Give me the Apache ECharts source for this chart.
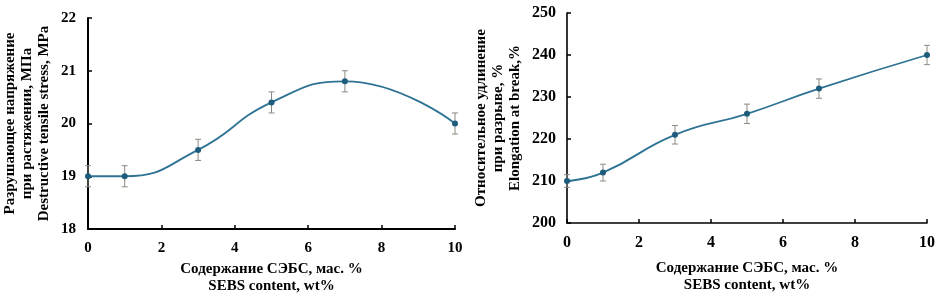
<!DOCTYPE html>
<html><head><meta charset="utf-8">
<script src="https://cdn.jsdelivr.net/npm/echarts@6/dist/echarts.min.js"></script>
<style>html,body{margin:0;padding:0;background:#fff}#c{width:939px;height:294px}</style>
</head><body><div id="c"></div>
<script>
const xValues = [0, 1, 3, 5, 7, 10];
const stressValues = [19, 19, 19.5, 20.4, 20.8, 20];
const stressErr = [0.2, 0.2, 0.2, 0.2, 0.2, 0.2];
const elongValues = [210, 212, 221, 226, 232, 240];
const elongErr = [1.5, 2, 2.2, 2.3, 2.3, 2.3];
const xTitle = 'Содержание СЭБС, мас. %\nSEBS content, wt%';
const yTitleLeft = 'Разрушающее напряжение\nпри растяжении, МПа\nDestructive tensile stress, MPa';
const yTitleRight = 'Относительное удлинение\nпри разрыве, %\nElongation at break,%';

const FONT = 'Liberation Serif';
const lineColor = '#2f7394';
const markColor = '#1d5c7c';
const errColor = '#8c8a80';

function pts(ys){ return xValues.map((x,i)=>[x, ys[i]]); }
function errData(ys, es){ return xValues.map((x,i)=>[x, ys[i]-es[i], ys[i]+es[i]]); }

function errSeries(idx, ys, es){
  return {
    type:'custom', xAxisIndex:idx, yAxisIndex:idx, z:1, silent:true,
    data: errData(ys, es),
    renderItem(params, api){
      const x = api.value(0);
      const lo = api.coord([x, api.value(1)]);
      const hi = api.coord([x, api.value(2)]);
      const w = 3;
      const st = {stroke: errColor, lineWidth: 1};
      return {type:'group', children:[
        {type:'line', shape:{x1:lo[0], y1:lo[1], x2:hi[0], y2:hi[1]}, style:st},
        {type:'line', shape:{x1:lo[0]-w, y1:lo[1], x2:lo[0]+w, y2:lo[1]}, style:st},
        {type:'line', shape:{x1:hi[0]-w, y1:hi[1], x2:hi[0]+w, y2:hi[1]}, style:st}
      ]};
    }
  };
}

function axisBase(fs, lw){
  return {
    axisLine:{show:true, onZero:false, lineStyle:{color:'#000', width:lw}},
    axisTick:{show:true, inside:true, length:4, lineStyle:{color:'#000', width:1.5}},
    splitLine:{show:false},
    axisLabel:{fontFamily:FONT, fontWeight:'bold', fontSize:fs, color:'#000'},
    nameTextStyle:{fontFamily:FONT, fontWeight:'bold', fontSize:15, color:'#000', lineHeight:17}
  };
}

function xAxis(idx, fs, lw, margin, gap){
  const b = axisBase(fs, lw);
  b.axisLabel.margin = margin;
  return Object.assign(b, {
    type:'value', gridIndex:idx, min:0, max:10, interval:2,
    name:xTitle, nameLocation:'middle', nameGap:gap
  });
}
function yAxis(idx, fs, lw, margin, min, max, interval, name, gap){
  const b = axisBase(fs, lw);
  b.axisLabel.margin = margin;
  return Object.assign(b, {
    type:'value', gridIndex:idx, min:min, max:max, interval:interval,
    name:name, nameLocation:'middle', nameRotate:90, nameGap:gap
  });
}

const chart = echarts.init(document.getElementById('c'));
chart.setOption({
  backgroundColor:'#fff',
  animation:false,
  grid:[
    {left:88, right:484, top:18, bottom:65, containLabel:false, outerBoundsMode:'none'},
    {left:567, right:12, top:13, bottom:71, containLabel:false, outerBoundsMode:'none'}
  ],
  xAxis:[xAxis(0, 15, 2, 12, 26), xAxis(1, 16, 1.6, 12, 37)],
  yAxis:[
    yAxis(0, 15, 2, 12, 18, 22, 1, yTitleLeft, 35),
    yAxis(1, 16, 1.6, 11, 200, 250, 10, yTitleRight, 43)
  ],
  series:[
    errSeries(0, stressValues, stressErr),
    errSeries(1, elongValues, elongErr),
    {type:'line', xAxisIndex:0, yAxisIndex:0, data:pts(stressValues), smooth:0.5, z:2,
      symbol:'circle', symbolSize:6, itemStyle:{color:markColor}, lineStyle:{color:lineColor, width:1.8}},
    {type:'line', xAxisIndex:1, yAxisIndex:1, data:pts(elongValues), smooth:0.5, z:2,
      symbol:'circle', symbolSize:6, itemStyle:{color:markColor}, lineStyle:{color:lineColor, width:1.8}}
  ]
});
</script></body></html>
